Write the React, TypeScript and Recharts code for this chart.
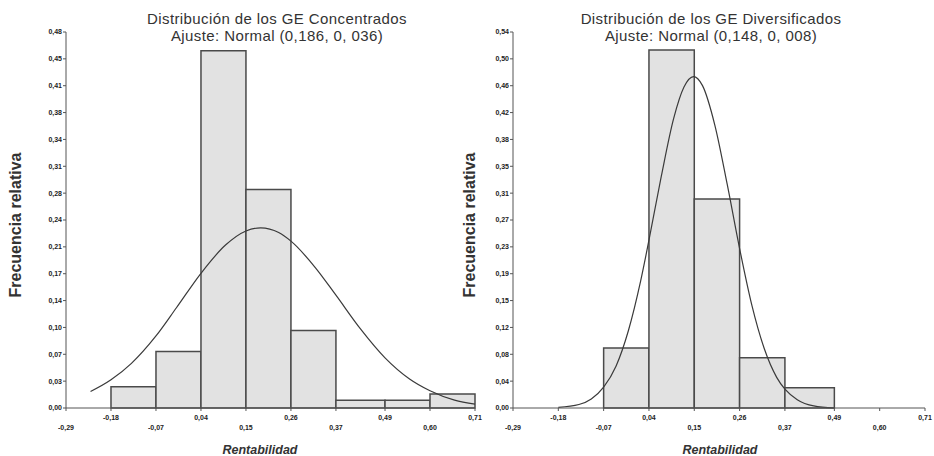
import React from "react";
import {
  ComposedChart,
  Line,
  XAxis,
  YAxis,
  ReferenceArea,
} from "recharts";

const xTickValues = [-0.29, -0.18, -0.07, 0.04, 0.15, 0.26, 0.37, 0.49, 0.6, 0.71];
const xTickLabels = ["-0,29", "-0,18", "-0,07", "0,04", "0,15", "0,26", "0,37", "0,49", "0,60", "0,71"];

// Concentrados
const leftYTickLabels = ["0,00", "0,03", "0,07", "0,10", "0,14", "0,17", "0,21", "0,24", "0,28", "0,31", "0,34", "0,38", "0,41", "0,45", "0,48"];
const leftBinFrom = [-0.18, -0.07, 0.04, 0.15, 0.26, 0.37, 0.49, 0.6];
const leftBinTo = [-0.07, 0.04, 0.15, 0.26, 0.37, 0.49, 0.6, 0.71];
const leftFreq = [0.027, 0.072, 0.456, 0.279, 0.099, 0.01, 0.01, 0.018];
const leftCurveX = [-0.23, -0.18, -0.13, -0.07, -0.02, 0.04, 0.1, 0.15, 0.186, 0.23, 0.26, 0.32, 0.37, 0.43, 0.49, 0.55, 0.6, 0.66, 0.71];
const leftCurveY = [0.021, 0.036, 0.057, 0.092, 0.128, 0.172, 0.208, 0.226, 0.23, 0.224, 0.213, 0.179, 0.144, 0.101, 0.064, 0.037, 0.022, 0.01, 0.005];

// Diversificados
const rightYTickLabels = ["0,00", "0,04", "0,08", "0,12", "0,15", "0,19", "0,23", "0,27", "0,31", "0,35", "0,38", "0,42", "0,46", "0,50", "0,54"];
const rightBinFrom = [-0.07, 0.04, 0.15, 0.26, 0.37];
const rightBinTo = [0.04, 0.15, 0.26, 0.37, 0.49];
const rightFreq = [0.086, 0.514, 0.3, 0.072, 0.029];
const rightCurveX = [-0.18, -0.13, -0.1, -0.07, -0.04, -0.01, 0.02, 0.04, 0.07, 0.1, 0.125, 0.148, 0.17, 0.2, 0.23, 0.26, 0.29, 0.32, 0.35, 0.37, 0.4, 0.44, 0.49];
const rightCurveY = [0.001, 0.005, 0.013, 0.03, 0.06, 0.111, 0.183, 0.241, 0.333, 0.416, 0.461, 0.476, 0.463, 0.406, 0.321, 0.229, 0.147, 0.085, 0.044, 0.027, 0.012, 0.003, 0.0];

const FONT = "'Liberation Sans', Arial, sans-serif";
const INK = "#333";
const Y_AXIS_W = 30;
const X_AXIS_H = 30;

const XTick = (props: any) => {
  const { x, y, index } = props;
  const upper = index % 2 === 1;
  return (
    <text
      x={x}
      y={y + (upper ? 9 : 19)}
      textAnchor="middle"
      fontSize={7}
      fontWeight="bold"
      fontFamily={FONT}
      fill="#222"
    >
      {xTickLabels[index]}
    </text>
  );
};

interface HistProps {
  left: number;
  width: number;
  marginLeft: number;
  marginRight: number;
  yMax: number;
  yLabels: string[];
  binFrom: number[];
  binTo: number[];
  freq: number[];
  curveX: number[];
  curveY: number[];
  title1: string;
  title2: string;
  titleX: number;
  yLabelX: number;
  xLabelX: number;
}

const Histogram: React.FC<HistProps> = (p) => {
  const curve = p.curveX.map((x, i) => ({ x, y: p.curveY[i] }));
  const yTicks = p.yLabels.map((_, i) => (i * p.yMax) / (p.yLabels.length - 1));

  return (
    <>
      <div style={{ position: "absolute", left: p.left, top: 0 }}>
        <ComposedChart
          width={p.width}
          height={456}
          data={curve}
          margin={{
            top: 32,
            right: p.marginRight,
            bottom: 48 - X_AXIS_H,
            left: p.marginLeft - Y_AXIS_W,
          }}
        >
          <XAxis
            type="number"
            dataKey="x"
            domain={[-0.29, 0.71]}
            ticks={xTickValues}
            interval={0}
            height={X_AXIS_H}
            tickSize={3}
            tickMargin={0}
            tick={<XTick />}
            axisLine={{ stroke: "#555" }}
            tickLine={{ stroke: "#555" }}
          />
          <YAxis
            type="number"
            domain={[0, p.yMax]}
            ticks={yTicks}
            interval={0}
            width={Y_AXIS_W}
            tickSize={3}
            tickMargin={1}
            tickFormatter={(_v: number, i: number) => p.yLabels[i]}
            tick={{ fontSize: 7, fontWeight: "bold", fontFamily: FONT, fill: "#222" }}
            axisLine={{ stroke: "#555" }}
            tickLine={{ stroke: "#555" }}
          />
          {p.freq.map((f, i) => (
            <ReferenceArea
              key={i}
              x1={p.binFrom[i]}
              x2={p.binTo[i]}
              y1={0}
              y2={f}
              fill="#e2e2e2"
              fillOpacity={1}
              stroke="#4a4a4a"
              strokeWidth={1.5}
              ifOverflow="visible"
            />
          ))}
          <Line
            type="monotone"
            dataKey="y"
            stroke="#3a3a3a"
            strokeWidth={1.2}
            dot={false}
            isAnimationActive={false}
          />
        </ComposedChart>
      </div>
      <div
        style={{
          position: "absolute",
          left: p.titleX - 200,
          width: 400,
          top: 10,
          textAlign: "center",
          fontFamily: FONT,
          fontSize: 15,
          letterSpacing: "0.4px",
          lineHeight: "17px",
          color: INK,
        }}
      >
        {p.title1}
        <br />
        {p.title2}
      </div>
      <div
        style={{
          position: "absolute",
          left: p.yLabelX,
          top: 225,
          transform: "translate(-50%, -50%) rotate(-90deg)",
          whiteSpace: "nowrap",
          fontFamily: FONT,
          fontSize: 16,
          fontWeight: "bold",
          color: INK,
        }}
      >
        Frecuencia relativa
      </div>
      <div
        style={{
          position: "absolute",
          left: p.xLabelX,
          top: 450,
          transform: "translate(-50%, -50%)",
          whiteSpace: "nowrap",
          fontFamily: FONT,
          fontSize: 12.5,
          fontWeight: "bold",
          fontStyle: "italic",
          color: INK,
        }}
      >
        Rentabilidad
      </div>
    </>
  );
};

export default function App() {
  return (
    <div
      style={{
        position: "absolute",
        left: 0,
        top: 0,
        width: 934,
        height: 456,
        background: "#fff",
        overflow: "hidden",
      }}
    >
      <Histogram
        left={0}
        width={490}
        marginLeft={66}
        marginRight={15}
        yMax={0.48}
        yLabels={leftYTickLabels}
        binFrom={leftBinFrom}
        binTo={leftBinTo}
        freq={leftFreq}
        curveX={leftCurveX}
        curveY={leftCurveY}
        title1="Distribución de los GE Concentrados"
        title2="Ajuste: Normal (0,186, 0, 036)"
        titleX={277}
        yLabelX={16}
        xLabelX={260}
      />
      <Histogram
        left={470}
        width={464}
        marginLeft={43}
        marginRight={9}
        yMax={0.54}
        yLabels={rightYTickLabels}
        binFrom={rightBinFrom}
        binTo={rightBinTo}
        freq={rightFreq}
        curveX={rightCurveX}
        curveY={rightCurveY}
        title1="Distribución de los GE Diversificados"
        title2="Ajuste: Normal (0,148, 0, 008)"
        titleX={711}
        yLabelX={470}
        xLabelX={720}
      />
    </div>
  );
}
